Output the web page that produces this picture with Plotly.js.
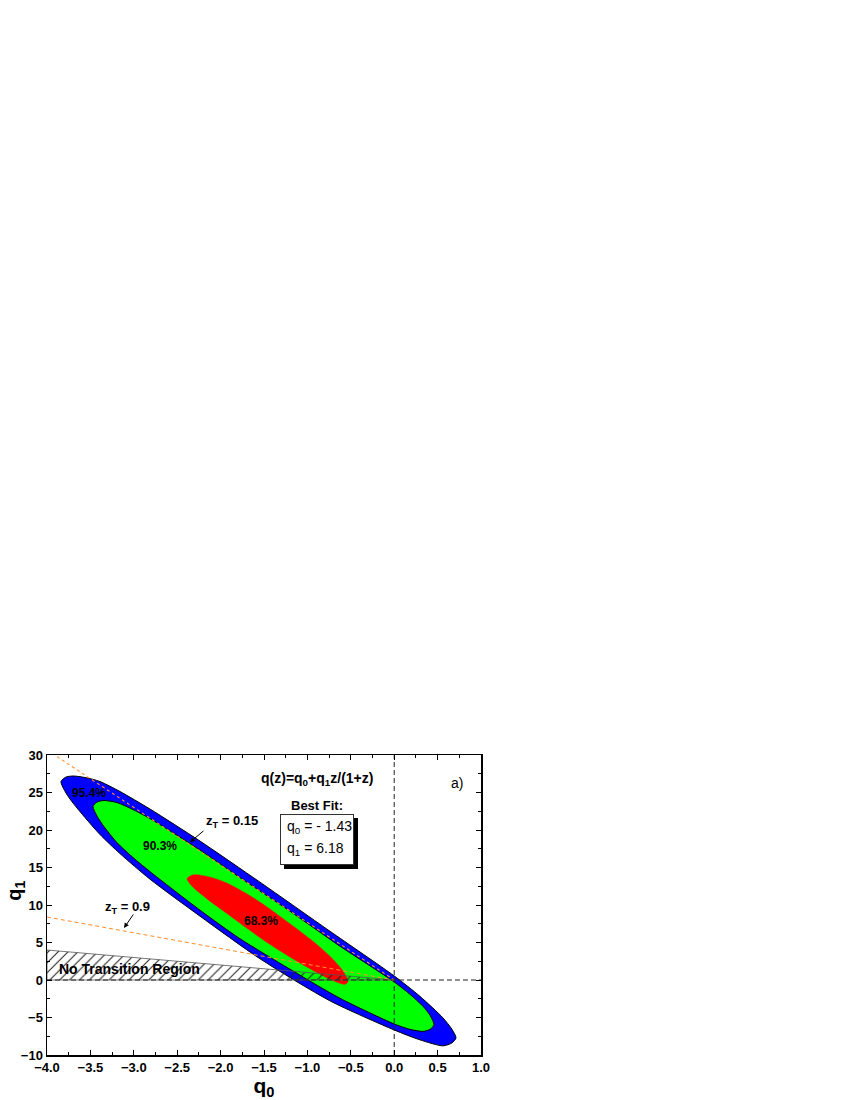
<!DOCTYPE html>
<html>
<head>
<meta charset="utf-8">
<script src="https://cdn.plot.ly/plotly-3.0.1.min.js"></script>
<style>html,body{margin:0;padding:0;background:#fff;}</style>
</head>
<body>
<div id="chart" style="width:850px;height:1100px;"></div>
<script>
// ---- data ----
// 95.4% contour (blue), boundary points
const blue_q0 = [-3.839,-3.781,-3.700,-3.562,-3.389,-3.159,-2.813,-2.237,-1.546,-0.740,-0.002,0.297,0.562,0.666,0.712,0.666,0.562,0.297,-0.002,-0.740,-1.546,-2.237,-2.813,-3.159,-3.389,-3.562,-3.700,-3.781,-3.839];
const blue_q1 = [26.46,27.06,27.20,27.00,26.46,25.13,22.79,18.52,13.04,6.50,0.56,-2.18,-5.05,-6.58,-7.72,-8.38,-8.78,-7.98,-6.65,-2.78,2.83,8.51,13.44,16.85,19.39,21.66,23.59,24.93,26.46];
// 90.3% contour (green)
const green_q0 = [-3.470,-3.424,-3.343,-3.194,-3.009,-2.813,-2.237,-1.776,-1.200,-0.624,-0.002,0.182,0.332,0.413,0.459,0.413,0.332,0.182,-0.002,-0.624,-1.200,-1.776,-2.237,-2.813,-3.009,-3.194,-3.343,-3.424,-3.470];
const green_q1 = [23.12,23.73,23.93,23.66,22.72,21.52,17.32,13.65,9.17,4.50,-0.24,-1.91,-3.51,-4.71,-5.98,-6.58,-6.85,-6.58,-5.85,-2.44,1.43,5.50,9.31,14.45,16.32,18.32,20.45,21.86,23.12];
// 68.3% contour (red)
const red_q0 = [-2.387,-2.329,-2.237,-2.099,-1.938,-1.719,-1.523,-1.339,-1.143,-0.912,-0.740,-0.624,-0.567,-0.532,-0.567,-0.624,-0.740,-0.912,-1.143,-1.339,-1.523,-1.719,-1.938,-2.099,-2.237,-2.329,-2.387];
const red_q1 = [13.51,13.98,13.98,13.65,12.98,11.64,10.20,8.68,7.01,4.94,3.16,1.70,0.76,-0.24,-0.57,-0.44,0.09,1.12,2.66,4.06,5.47,7.10,8.97,10.31,11.58,12.51,13.51];
// transition lines z_T = 0.15 and z_T = 0.9
const zt015_q0 = [-4, 0];
const zt015_q1 = [30.67, 0];
const zt09_q0 = [-4, 0];
const zt09_q1 = [8.4, 0];
// no transition region
const ntr_q0 = [-4, -4, 0, -4];
const ntr_q1 = [0, 4, 0, 0];
// reference lines q0 = 0 and q1 = 0
const vline_q0 = [0, 0];
const vline_q1 = [-10, 30];
const hline_q0 = [-4, 1];
const hline_q1 = [0, 0];
// best fit
const best_q0 = -1.43;
const best_q1 = 6.18;
// contour labels
const cl_text = ['95.4%', '90.3%', '68.3%'];
const cl_q0 = [-3.52, -2.70, -1.535];
const cl_q1 = [24.95, 17.82, 7.90];

const FONT = 'Liberation Sans, Arial, Helvetica, sans-serif';
const SM = 0.7;

const traces = [
  {x: blue_q0, y: blue_q1, type:'scatter', mode:'lines', fill:'toself', fillcolor:'#0000FF',
   line:{color:'#000', width:1, shape:'spline', smoothing:SM}, hoverinfo:'skip', showlegend:false},
  {x: green_q0, y: green_q1, type:'scatter', mode:'lines', fill:'toself', fillcolor:'#00FF00',
   line:{color:'#000', width:1, shape:'spline', smoothing:SM}, hoverinfo:'skip', showlegend:false},
  {x: red_q0, y: red_q1, type:'scatter', mode:'lines', fill:'toself', fillcolor:'#FF0000',
   line:{color:'#FF0000', width:0.5, shape:'spline', smoothing:SM}, hoverinfo:'skip', showlegend:false},
  {x: ntr_q0, y: ntr_q1, type:'scatter', mode:'lines', fill:'toself', fillcolor:'rgba(0,0,0,0)',
   fillpattern:{shape:'/', fgcolor:'#222', size:7, solidity:0.15},
   line:{color:'#555', width:0.8}, hoverinfo:'skip', showlegend:false},
  {x: zt015_q0, y: zt015_q1, type:'scatter', mode:'lines',
   line:{color:'#FF8F2E', width:1.1, dash:'3px,3px'}, hoverinfo:'skip', showlegend:false},
  {x: zt09_q0, y: zt09_q1, type:'scatter', mode:'lines',
   line:{color:'#FF8F2E', width:1.1, dash:'4px,3px'}, hoverinfo:'skip', showlegend:false},
  {x: vline_q0, y: vline_q1, type:'scatter', mode:'lines',
   line:{color:'#222', width:1, dash:'5px,3px'}, hoverinfo:'skip', showlegend:false},
  {x: hline_q0, y: hline_q1, type:'scatter', mode:'lines',
   line:{color:'#222', width:1, dash:'5px,3px'}, hoverinfo:'skip', showlegend:false}
];

const annotations = [];
for (let i = 0; i < cl_text.length; i++) {
  annotations.push({x: cl_q0[i], y: cl_q1[i], xref:'x', yref:'y', text:'<b>' + cl_text[i] + '</b>',
    showarrow:false, font:{family:FONT, size:12, color:'#000'}});
}
// z_T labels and arrows
annotations.push({x:-1.872, y:21.12, xref:'x', yref:'y', text:'<b>z<sub>T</sub> = 0.15</b>', showarrow:false,
  font:{family:FONT, size:13, color:'#000'}});
annotations.push({x:-2.353, y:18.36, ax:-2.180, ay:20.05, xref:'x', yref:'y', axref:'x', ayref:'y', text:'',
  showarrow:true, arrowhead:2, arrowsize:1, arrowwidth:1, arrowcolor:'#000'});
annotations.push({x:-3.073, y:9.64, xref:'x', yref:'y', text:'<b>z<sub>T</sub> = 0.9</b>', showarrow:false,
  font:{family:FONT, size:13, color:'#000'}});
annotations.push({x:-3.113, y:6.93, ax:-2.994, ay:8.93, xref:'x', yref:'y', axref:'x', ayref:'y', text:'',
  showarrow:true, arrowhead:2, arrowsize:1, arrowwidth:1, arrowcolor:'#000'});
// No transition region
annotations.push({x:-3.05, y:1.50, xref:'x', yref:'y', text:'<b>No Transition Region</b>', showarrow:false,
  font:{family:FONT, size:14, color:'#000'}});
// model formula
annotations.push({x:-0.889, y:26.86, xref:'x', yref:'y', text:'<b>q(z)=q<sub>0</sub>+q<sub>1</sub>z/(1+z)</b>', showarrow:false,
  font:{family:FONT, size:14, color:'#000'}});
annotations.push({x:-0.889, y:23.26, xref:'x', yref:'y', text:'<b>Best Fit:</b>', showarrow:false,
  font:{family:FONT, size:13, color:'#000'}});
// box shadow and box
annotations.push({x:-0.884, y:18.77, xref:'x', yref:'y', text:'\u00a0', showarrow:false, width:70, height:47,
  bgcolor:'#000', bordercolor:'#000', borderwidth:1, borderpad:1, xshift:4, yshift:-4,
  font:{family:FONT, size:14, color:'#000'}});
annotations.push({x:-0.884, y:18.77, xref:'x', yref:'y', text:'\u00a0', showarrow:false, width:70, height:47,
  bgcolor:'#fff', bordercolor:'#333', borderwidth:1, borderpad:1,
  font:{family:FONT, size:14, color:'#000'}});
annotations.push({x:-1.258, y:20.45, xref:'x', yref:'y', xanchor:'left', text:'q<sub>0</sub> = - ' + Math.abs(best_q0).toFixed(2), showarrow:false,
  font:{family:FONT, size:14, color:'#000'}});
annotations.push({x:-1.258, y:17.52, xref:'x', yref:'y', xanchor:'left', text:'q<sub>1</sub> = ' + best_q1.toFixed(2), showarrow:false,
  font:{family:FONT, size:14, color:'#000'}});
// panel label
annotations.push({x:0.718, y:26.33, xref:'x', yref:'y', text:'a)', showarrow:false,
  font:{family:FONT, size:14, color:'#000'}});
// y axis title
annotations.push({x:-0.072, y:0.547, xref:'paper', yref:'paper', xanchor:'center', yanchor:'middle',
  text:'<b>q<sub>1</sub></b>', textangle:-90,
  showarrow:false, font:{family:FONT, size:20, color:'#000'}});

const axisCommon = {
  showline:true, linecolor:'#000', linewidth:1.5, mirror:'ticks',
  ticks:'inside', ticklen:5, tickwidth:1, tickcolor:'#000',
  showgrid:false, zeroline:false,
  tickprefix:'<b>', ticksuffix:'</b>',
  tickfont:{family:FONT, size:13, color:'#000'}
};

const layout = {
  width:850, height:1100,
  margin:{l:47, r:369, t:755, b:45, pad:0},
  paper_bgcolor:'#fff', plot_bgcolor:'#fff',
  showlegend:false,
  xaxis: Object.assign({}, axisCommon, {
    range:[-4, 1], tick0:-4, dtick:0.5, tickformat:'.1f',
    minor:{dtick:0.25, ticks:'inside', ticklen:3, tickwidth:1, tickcolor:'#000', showgrid:false},
    title:{text:'<b>q<sub>0</sub></b>', font:{family:FONT, size:21, color:'#000'}, standoff:0}
  }),
  yaxis: Object.assign({}, axisCommon, {
    range:[-10, 30], tick0:-10, dtick:5,
    minor:{dtick:2.5, ticks:'inside', ticklen:3, tickwidth:1, tickcolor:'#000', showgrid:false}
  }),
  annotations: annotations
};

Plotly.newPlot('chart', traces, layout, {staticPlot:true, displayModeBar:false});
</script>
</body>
</html>
